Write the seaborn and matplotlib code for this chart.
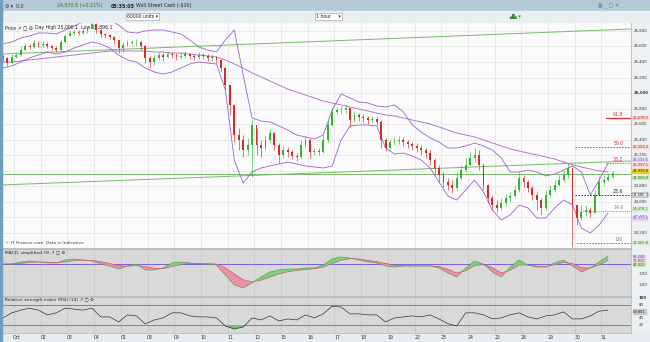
import numpy as np
import pandas as pd
import matplotlib
matplotlib.use("Agg")
import matplotlib.pyplot as plt
import seaborn as sns
from matplotlib.patches import Rectangle
from matplotlib.transforms import blended_transform_factory as btf

sns.set_theme(style="white")
plt.rcParams["font.family"] = ["DejaVu Sans"]

# ---------------- data ----------------
date_labels = ["Oct", "02", "03", "04", "05", "08", "09", "10", "11", "12", "15", "16",
               "17", "18", "19", "22", "23", "24", "25", "26", "29", "30", "31"]

# 4-hour candles (6 per trading day)
close = [26452, 26387, 26465, 26490, 26555, 26607, 26594, 26645, 26619, 26632, 26607, 26581,
         26555, 26658, 26736, 26774, 26787, 26774, 26800, 26826, 26890, 26813, 26761, 26748,
         26723, 26684, 26581, 26619, 26645, 26658, 26658, 26607, 26452, 26400, 26452, 26490,
         26465, 26503, 26490, 26465, 26478, 26503, 26478, 26465, 26490, 26478, 26452, 26465,
         26426, 26323, 26104, 25846, 25459, 25394, 25265, 25330, 25588, 25330, 25291, 25394,
         25484, 25330, 25201, 25265, 25239, 25188, 25175, 25330, 25394, 25239, 25252, 25239,
         25394, 25588, 25755, 25781, 25781, 25807, 25652, 25717, 25691, 25678, 25652, 25665,
         25626, 25394, 25291, 25368, 25381, 25394, 25368, 25342, 25317, 25291, 25265, 25226,
         25136, 25033, 24943, 24852, 24814, 24775, 24904, 25007, 25072, 25162, 25201, 25072,
         24814, 24646, 24556, 24517, 24581, 24646, 24672, 24749, 24904, 24852, 24775, 24685,
         24620, 24517, 24685, 24749, 24814, 24878, 24943, 25033, 24556, 24388, 24465, 24491,
         24452, 24685, 24852, 24878, 24917, 24970]
high = [26490, 26465, 26503, 26529, 26607, 26645, 26632, 26684, 26671, 26671, 26658, 26619,
        26607, 26684, 26761, 26800, 26813, 26813, 26839, 26865, 26916, 26903, 26813, 26774,
        26761, 26736, 26684, 26658, 26684, 26684, 26697, 26671, 26619, 26478, 26503, 26529,
        26516, 26542, 26529, 26516, 26529, 26542, 26516, 26503, 26529, 26516, 26503, 26503,
        26478, 26439, 26349, 26104, 25846, 25549, 25459, 25420, 25652, 25549, 25394, 25446,
        25536, 25497, 25355, 25317, 25304, 25265, 25226, 25394, 25446, 25420, 25291, 25291,
        25459, 25652, 25807, 25820, 25833, 25858, 25807, 25768, 25742, 25729, 25704, 25704,
        25691, 25652, 25420, 25407, 25433, 25446, 25433, 25394, 25368, 25355, 25330, 25291,
        25265, 25162, 25072, 24981, 24904, 24878, 24981, 25072, 25162, 25239, 25291, 25265,
        25097, 24826, 24685, 24620, 24646, 24697, 24723, 24814, 24981, 24943, 24878, 24801,
        24723, 24646, 24749, 24814, 24878, 24943, 25007, 25097, 25033, 24556, 24556, 24556,
        24530, 24749, 24930, 24943, 24968, 24994]
low = [26400, 26349, 26374, 26452, 26478, 26555, 26568, 26581, 26594, 26594, 26581, 26555,
       26529, 26555, 26645, 26736, 26748, 26748, 26761, 26774, 26839, 26774, 26723, 26710,
       26697, 26632, 26516, 26529, 26607, 26619, 26607, 26555, 26387, 26323, 26362, 26426,
       26413, 26452, 26452, 26426, 26439, 26452, 26439, 26426, 26439, 26439, 26413, 26413,
       26387, 26271, 26039, 25717, 25368, 25265, 25175, 25201, 24917, 25201, 25175, 25265,
       25368, 25265, 25097, 25162, 25175, 25149, 25123, 25162, 25304, 25162, 25201, 25201,
       25226, 25368, 25575, 25729, 25742, 25742, 25562, 25626, 25639, 25626, 25600, 25613,
       25588, 25291, 25252, 25278, 25330, 25342, 25317, 25291, 25265, 25239, 25201, 25162,
       25072, 24943, 24852, 24788, 24749, 24710, 24749, 24878, 24981, 25059, 25110, 25007,
       24749, 24581, 24491, 24465, 24491, 24543, 24607, 24646, 24723, 24788, 24723, 24620,
       24491, 24427, 24491, 24659, 24723, 24801, 24852, 24904, 24013, 24298, 24362, 24414,
       24401, 24465, 24685, 24814, 24865, 24904]

# indicators sampled every 2 candles (8 hours)
bb_upper = [26632, 26658, 26710, 26736, 26774, 26774, 26761, 26813, 26865, 26916, 26955, 26968,
            26942, 26877, 26787, 26774, 26800, 26813, 26813, 26787, 26761, 26684, 26594, 26555,
            26529, 26684, 26813, 26232, 25678, 25639, 25626, 25575, 25523, 25459, 25433, 25407,
            25459, 25781, 25987, 25936, 25884, 25871, 25833, 25820, 25846, 25755, 25588, 25497,
            25420, 25368, 25291, 25291, 25317, 25355, 25317, 25265, 25162, 24981, 24981, 25007,
            24981, 24930, 24955, 25007, 25059, 24981, 24685, 24878, 25097]
bb_lower = [26323, 26349, 26400, 26452, 26490, 26529, 26503, 26529, 26581, 26619, 26658, 26632,
            26581, 26490, 26426, 26400, 26323, 26271, 26245, 26271, 26323, 26374, 26400, 26387,
            26374, 26039, 25136, 24839, 24981, 25033, 25059, 25084, 25110, 25084, 25059, 25046,
            25033, 25059, 25394, 25575, 25588, 25588, 25575, 25291, 25213, 25226, 25188, 25136,
            25033, 24852, 24672, 24620, 24749, 24878, 24723, 24491, 24362, 24427, 24556, 24517,
            24388, 24388, 24517, 24620, 24556, 24259, 24194, 24298, 24452]
ma_long = [26400, 26400, 26413, 26426, 26439, 26452, 26465, 26478, 26490, 26503, 26516, 26529,
           26542, 26542, 26542, 26542, 26542, 26529, 26529, 26516, 26516, 26503, 26490, 26478,
           26465, 26426, 26374, 26323, 26258, 26207, 26155, 26104, 26052, 26013, 25974, 25936,
           25897, 25871, 25846, 25820, 25794, 25768, 25742, 25717, 25704, 25678, 25652, 25626,
           25600, 25562, 25523, 25484, 25459, 25433, 25394, 25355, 25317, 25278, 25252, 25226,
           25201, 25175, 25149, 25110, 25072, 25046, 25020, 24994, 24981]
macd = [0, 0, 19, 29, 19, 10, 10, 38, 48, 38, 29, 0, -19, -48, -19, 0, -57, -57, -38, 10,
        19, 10, 0, 0, -10, -105, -200, -228, -180, -124, -76, -57, -48, -48, -38, -38, -10,
        48, 67, 57, 38, 19, 10, -19, -29, -19, -19, -19, -19, -38, -86, -124, -38, 29, 0,
        -76, -124, -29, 38, -10, -29, -29, 10, 38, -19, -76, -38, 19, 76]
signal = [0, 0, 5, 15, 20, 17, 14, 20, 32, 37, 35, 22, 5, -15, -22, -15, -25, -40, -45, -25,
          -5, 5, 5, 3, 0, -35, -95, -150, -170, -155, -125, -95, -75, -62, -52, -45, -30,
          5, 35, 50, 48, 35, 22, 5, -12, -17, -18, -18, -18, -25, -50, -85, -65, -15, -5,
          -35, -85, -60, -10, -10, -20, -25, -8, 15, 5, -35, -38, -10, 35]
rsi = [41, 56, 64, 70, 64, 50, 56, 70, 67, 64, 70, 44, 44, 29, 50, 47, 23, 35, 41, 56,
       56, 47, 44, 44, 41, 17, 8, 14, 41, 35, 47, 32, 38, 35, 50, 41, 53, 76, 73, 53,
       53, 50, 50, 29, 41, 44, 47, 44, 50, 38, 24, 17, 56, 56, 50, 38, 41, 50, 56, 44,
       38, 47, 50, 59, 38, 38, 47, 61, 64]

price_ticks = [24200, 24400, 24600, 24800, 25000, 25200, 25400, 25600, 25800, 26000,
               26200, 26400, 26600, 26800]
trend_top = [26503, 26826]        # drawn trend line, start / end
trend_low = [24814, 25123]        # drawn trend line, start / end
support_level = 24955
fib_labels = ["61.8", "50.0", "38.2", "23.6", "14.6", "0.0"]
fib_prices = [25678, 25304, 25097, 24685, 24478, 24065]
last_price = 24970.8

# ---------------- layout helpers ----------------
W, H = 650, 342
fig = plt.figure(figsize=(W / 100, H / 100), dpi=100)
fig.patch.set_facecolor("#e3e9ed")


def rect(x0, y0, x1, y1):
    return [x0 / W, 1 - y1 / H, (x1 - x0) / W, (y1 - y0) / H]


def frect(x0, y0, x1, y1, color, z=0):
    fig.patches.append(Rectangle((x0 / W, 1 - y1 / H), (x1 - x0) / W, (y1 - y0) / H,
                                 transform=fig.transFigure, color=color, zorder=z))


# title bar + toolbar
frect(0, 0, 650, 11, "#b4c9d5")
frect(0, 11, 650, 22, "#e9eef1")
frect(0, 0, 2, 342, "#6f9fc0", 5)
fig.text(5 / W, 1 - 6 / H, "⚙ ▾  0.0", fontsize=3.4, color="#333", va="center")
fig.text(57 / W, 1 - 6 / H, "24,970.8 (+0.21%)", fontsize=3.4, color="#1a8a1a",
         va="center")
fig.text(111 / W, 1 - 6 / H, "05:35:05", fontsize=3.4, color="#222", weight="bold",
         va="center")
fig.text(136 / W, 1 - 6 / H, "Wall Street Cash (-$10)", fontsize=3.4, color="#222",
         va="center")
fig.text(598 / W, 1 - 6 / H, "▣ _ ▢ ✕", fontsize=3.6, color="#6a8090", va="center")
fig.text(127 / W, 1 - 16.5 / H, "60000 units ▾", fontsize=3.3, color="#222", va="center",
         bbox=dict(boxstyle="square,pad=0.25", fc="white", ec="#999", lw=0.4))
fig.text(316 / W, 1 - 16.5 / H, "1 hour     ▾", fontsize=3.3, color="#222", va="center",
         bbox=dict(boxstyle="square,pad=0.25", fc="white", ec="#999", lw=0.4))
fig.text(509 / W, 1 - 16.5 / H, "▟▙ ▾", fontsize=3.6, color="#3a8a3a", va="center")

ax = fig.add_axes(rect(2, 22, 631, 248))
axm = fig.add_axes(rect(2, 249, 631, 296), sharex=ax)
axr = fig.add_axes(rect(2, 297, 631, 333), sharex=ax)
frect(631, 22, 650, 333, "#eef1f3", -1)
frect(2, 333, 650, 342, "#e7ecef", -1)

n = len(close)
k = np.arange(n)
ik = np.arange(0, n, 2)
opens = [close[0] + 26] + close[:-1]
df = pd.DataFrame({"k": k, "open": opens, "high": high, "low": low, "close": close})
df["up"] = df["close"] >= df["open"]
ind = pd.DataFrame({"k": ik, "upper": bb_upper, "lower": bb_lower, "ma": ma_long,
                    "macd": macd, "signal": signal, "rsi": rsi})

day_grid = 2.5 + 6 * np.arange(len(date_labels))
xlim = (-0.2, 141.15)

for a, bg in ((ax, "#fbfbfb"), (axm, "#d9d9d9"), (axr, "#d9d9d9")):
    a.set_facecolor(bg)
    for s in a.spines.values():
        s.set_color("#a9b4ba")
        s.set_linewidth(0.5)
    a.tick_params(left=False, right=False, bottom=False, top=False,
                  labelleft=False, labelbottom=False, labelright=False)
    a.set_xlim(*xlim)
    for g in day_grid:
        a.axvline(g, color="#e2e2e2" if a is ax else "#c6c6c6", lw=0.5, zorder=0)

# ---------------- price panel ----------------
ax.set_ylim(24000.8, 26916)
for p in price_ticks:
    ax.axhline(p, color="#e4e4e4", lw=0.5, zorder=0)

# drawn lines
ax.plot([xlim[0], xlim[1]], trend_top, color="#78b86a", lw=0.7, zorder=2)
ax.plot([xlim[0], xlim[1]], trend_low, color="#78b86a", lw=0.7, zorder=2)
ax.axhline(support_level, color="#78b86a", lw=0.7, zorder=2)

sns.lineplot(data=ind, x="k", y="ma", ax=ax, color="#b27ac8", lw=0.7, legend=False, zorder=3)
sns.lineplot(data=ind, x="k", y="upper", ax=ax, color="#9a64cc", lw=0.6, legend=False, zorder=3)
sns.lineplot(data=ind, x="k", y="lower", ax=ax, color="#9a64cc", lw=0.6, legend=False, zorder=3)

colors = np.where(df["up"], "#33b533", "#d62b2b")
ax.vlines(df["k"], df["low"], df["high"], colors=colors, lw=0.45, zorder=4)
ax.bar(df["k"], (df["close"] - df["open"]).abs().clip(lower=6),
       bottom=np.minimum(df["open"], df["close"]), width=0.42, color=colors,
       linewidth=0, zorder=5)
ax.set_xlabel("")
ax.set_ylabel("")

# fibonacci levels
fib_style = [("#e03030", "-", 0.9, 135.5), ("#e03030", (0, (2, 1.5)), 0.6, 128.5),
             ("#e03030", (0, (1, 1)), 0.6, 135.5), ("#222222", (0, (2, 1.5)), 0.6, 128.5),
             ("#5aa84a", (0, (1, 1.2)), 0.6, 129.0), ("#3e8e3e", (0, (2, 1.5)), 0.6, 129.0)]
tr = btf(ax.transAxes, ax.transData)
for lab, p, (c, ls, lw, x0) in zip(fib_labels, fib_prices, fib_style):
    ax.plot([x0, xlim[1]], [p, p], color=c, ls=ls, lw=lw, zorder=6)
    ax.text(0.988, p + 18, lab, transform=tr, fontsize=3.3, color=c, ha="right",
            va="bottom", zorder=7)

# right axis labels
for p in price_ticks:
    ax.text(1.004, p, f"{p:,}", transform=tr, fontsize=2.8, va="center", ha="left",
            color="#333", weight="bold" if p % 1000 == 0 else "normal", clip_on=False)


def tag(p, text, fc, tc, ec=None):
    ax.text(1.002, p, text, transform=tr, fontsize=2.6, va="center", ha="left",
            color=tc, clip_on=False, zorder=10,
            bbox=dict(boxstyle="square,pad=0.1", fc=fc, ec=ec or fc, lw=0.3))


tag(fib_prices[0], "25,678.0", "#f6d6d6", "#d02020")
tag(fib_prices[1], "25,304.4", "#f6d6d6", "#d02020")
tag(bb_upper[-1] + 45, "25,131.6", "#e2d6f2", "#7a4ab8")
tag(fib_prices[2] - 25, "25,097.1", "#f6d6d6", "#d02020")
tag(last_price + 20, f"{last_price:,.1f}", "#f2cc1a", "#222")
tag(support_level - 50, "24,955.0", "#c8e8c0", "#226622")
tag(fib_prices[3], "24,685.3", "#ffffff", "#222", "#222")
tag(fib_prices[4] + 20, "24,478.2", "#d8ecd0", "#2e7d2e")
tag(bb_lower[-1] - 70, "24,372.4", "#e2d6f2", "#7a4ab8")
tag(fib_prices[5], "24,065.8", "#d8ecd0", "#2e7d2e")

# panel header texts
ax.text(0.004, 0.985, "Price ↗ ▢ ⚙", transform=ax.transAxes, fontsize=3.3, va="top",
        color="#222", bbox=dict(boxstyle="square,pad=0.2", fc="#f3f3f3", ec="none"))
ax.text(0.052, 0.985, "Day High 25,000.1  Low 24,896.1", transform=ax.transAxes,
        fontsize=3.3, va="top", color="#222")
ax.text(0.004, 0.012, "© IT Finance.com  Data is Indicative", transform=ax.transAxes,
        fontsize=3.2, va="bottom", color="#444")

# ---------------- MACD panel ----------------
axm.set_ylim(-305, 143)
axm.axhline(0, color="#7a62d8", lw=0.7, zorder=2)
mv = np.array(macd, float)
sv = np.array(signal, float)
axm.fill_between(ik, mv, sv, where=mv >= sv, interpolate=True, color="#7fd07a",
                 lw=0, zorder=3)
axm.fill_between(ik, mv, sv, where=mv < sv, interpolate=True, color="#ee8fa2",
                 lw=0, zorder=3)
sns.lineplot(data=ind, x="k", y="macd", ax=axm, color="#4aa04a", lw=0.45, legend=False, zorder=4)
sns.lineplot(data=ind, x="k", y="signal", ax=axm, color="#d0506a", lw=0.45, legend=False, zorder=4)
axm.set_xlabel("")
axm.set_ylabel("")
axm.text(0.004, 0.96, "MACD, simplified (9) ↗ ▢ ⚙", transform=axm.transAxes,
         fontsize=3.2, va="top", color="#222")
trm = btf(axm.transAxes, axm.transData)
for v in (-100, -200):
    axm.text(1.012, v, f"{v}", transform=trm, fontsize=2.8, va="center", color="#333",
             clip_on=False)
for v, t, fc, tc in ((62, "66.240", "#e2d6f2", "#5a3aa8"), (28, "22.830", "#f6d6d6", "#c02020"),
                     (-6, "43.410", "#c8e8c0", "#226622")):
    axm.text(1.003, v, t, transform=trm, fontsize=2.6, va="center", color=tc,
             clip_on=False, bbox=dict(boxstyle="square,pad=0.1", fc=fc, ec=fc, lw=0.3))

# ---------------- RSI panel ----------------
axr.set_ylim(-3.7, 103)
axr.axhline(80, color="#8a6ed8", lw=0.7, zorder=2)
axr.axhline(20, color="#8a6ed8", lw=0.7, zorder=2)
rv = np.array(rsi, float)
axr.fill_between(ik, rv, 20, where=rv < 20, interpolate=True, color="#6cc36c", lw=0, zorder=3)
sns.lineplot(data=ind, x="k", y="rsi", ax=axr, color="#222222", lw=0.45, legend=False, zorder=4)
axr.set_xlabel("")
axr.set_ylabel("")
axr.text(0.004, 0.97, "Relative strength index (RSI) (14) ↗ ▢ ⚙", transform=axr.transAxes,
         fontsize=3.2, va="top", color="#222")
trr = btf(axr.transAxes, axr.transData)
for v in (100, 80, 40, 20):
    axr.text(1.012, v, f"{v}", transform=trr, fontsize=2.8, va="center", color="#333",
             weight="bold" if v == 100 else "normal", clip_on=False)
axr.text(1.003, 60, "59.851", transform=trr, fontsize=2.6, va="center", color="#222",
         clip_on=False, bbox=dict(boxstyle="square,pad=0.1", fc="#c8c8c8", ec="#c8c8c8"))

# date labels
trd = btf(axr.transData, fig.transFigure)
for g, lab in zip(day_grid, date_labels):
    fig.text(g + 0.6, 1 - 337.5 / H, lab, transform=trd, fontsize=3.3, ha="center",
             va="center", color="#333")

fig.savefig("out.png", dpi=100, facecolor=fig.get_facecolor())
